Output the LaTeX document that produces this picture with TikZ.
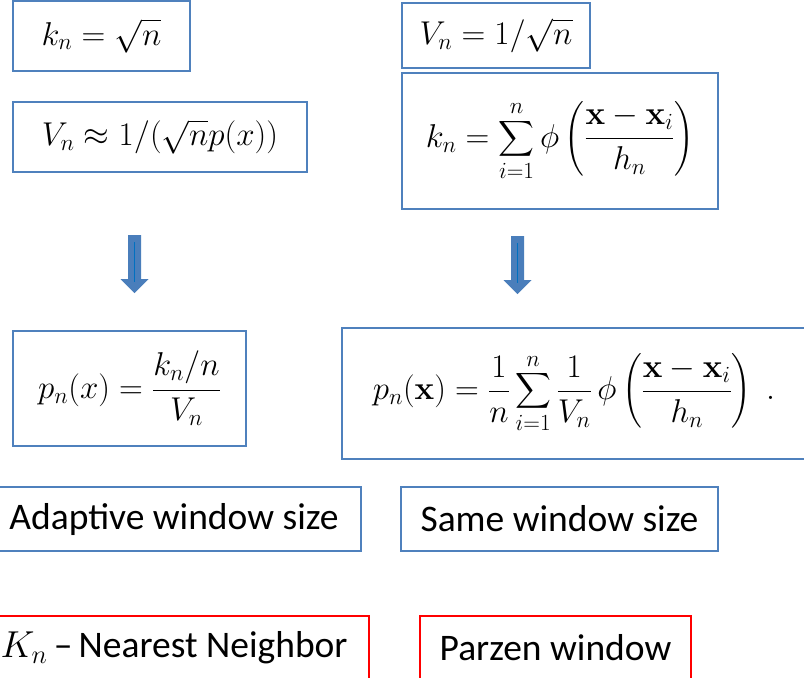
\RequirePackage{fix-cm}
\documentclass[tikz,border=0pt]{standalone}
\usepackage{amsmath}
\usepackage[no-math]{fontspec}
\setmainfont{Carlito}
\definecolor{boxblue}{HTML}{4F81BD}
\definecolor{arrowfill}{HTML}{4A7EBB}
\definecolor{arrowline}{HTML}{0070C0}
\begin{document}
\begin{tikzpicture}[x=1pt,y=-1pt,
  bluebox/.style={draw=boxblue, line width=1.5pt, inner sep=0pt, align=center},
  redbox/.style={draw=red, line width=1.2pt, inner sep=0pt, align=center},
  mathsz/.style={font=\fontsize{33}{40}\selectfont},
  txtsz/.style={font=\fontsize{37.5}{44}\selectfont},
  blockfill/.style={fill=arrowfill},
  blockline/.style={draw=arrowline, line width=1.8pt}]
\useasboundingbox (0,0) rectangle (804,678);
% top left
\node[bluebox, mathsz, minimum width=177pt, minimum height=70pt] (b1) at (101.5,36) {$k_n=\sqrt{n}$};
\node[bluebox, mathsz, minimum width=294pt, minimum height=70pt] (b2) at (160,137) {$V_n \approx 1/(\sqrt{n}p(x))$};
% top right
\node[bluebox, mathsz, minimum width=188pt, minimum height=65pt] (b3) at (496,35.5) {$V_n = 1/\sqrt{n}$};
\node[bluebox, mathsz, minimum width=316pt, minimum height=136pt] (b4) at (560,141) {$\displaystyle k_n = \sum_{i=1}^{n} \phi\left(\frac{\mathbf{x}-\mathbf{x}_i}{h_n}\right)$};
% arrows
\coordinate (a1) at (134.5,235);
\coordinate (a2) at (517.5,236);
\foreach \a in {a1,a2}{
  \fill[blockfill] (\a) ++(-6.5,0) -- ++(13,0) -- ++(0,44) -- ++(7.5,0) -- ++(-14,14) -- ++(-14,-14) -- ++(7.5,0) -- cycle;
  \draw[blockline] (\a) ++(0,7) -- ++(0,40);
}
% middle
\node[bluebox, mathsz, minimum width=233pt, minimum height=115pt] (b5) at (129.5,388.5) {$\displaystyle p_n(x) = \frac{k_n/n}{V_n}$};
\node[bluebox, mathsz, minimum width=464pt, minimum height=131pt] (b6) at (574,393.5) {$\displaystyle p_n(\mathbf{x}) = \frac{1}{n}\sum_{i=1}^{n}\frac{1}{V_n}\,\phi\left(\frac{\mathbf{x}-\mathbf{x}_i}{h_n}\right)\;.$};
% descriptions
\node[bluebox, txtsz, minimum width=374pt, minimum height=64pt] (b7) at (174,519) {Adaptive window size};
\node[bluebox, txtsz, minimum width=317pt, minimum height=64pt] (b8) at (559.5,519) {Same window size};
% names
\node[redbox, txtsz, minimum width=390pt, minimum height=64pt] (b9) at (174,648) {$K_n$\,--\,Nearest Neighbor};
\node[redbox, txtsz, minimum width=271pt, minimum height=64pt] (b10) at (555.5,648) {Parzen window};
\end{tikzpicture}
\end{document}
